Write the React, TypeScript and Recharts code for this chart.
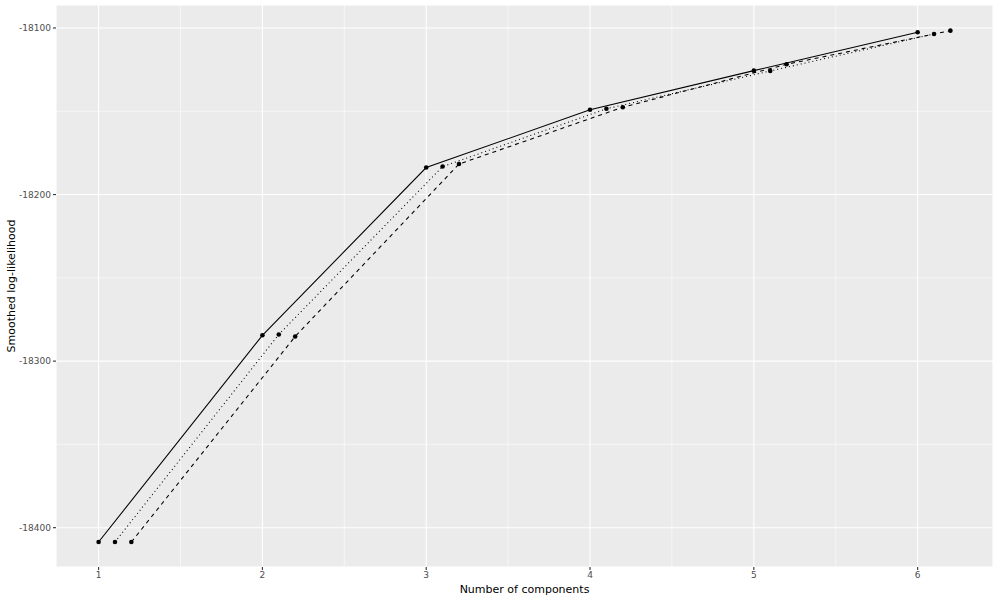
import React from 'react';
import { ComposedChart, Line, XAxis, YAxis, CartesianGrid, Label, ReferenceLine } from 'recharts';

const solidX = [1, 2, 3, 4, 5, 6];
const solidY = [-18408.6, -18284.5, -18183.8, -18149.1, -18125.6, -18102.6];
const dottedX = [1.1, 2.1, 3.1, 4.1, 5.1, 6.1];
const dottedY = [-18408.6, -18284.0, -18183.2, -18148.5, -18125.8, -18103.6];
const dashedX = [1.2, 2.2, 3.2, 4.2, 5.2, 6.2];
const dashedY = [-18408.6, -18285.2, -18181.7, -18147.6, -18121.8, -18101.6];

const xTicks = [1, 2, 3, 4, 5, 6];
const xMinor = [1.5, 2.5, 3.5, 4.5, 5.5];
const yTicks = [-18400, -18300, -18200, -18100];
const yMinor = [-18350, -18250, -18150];
const xDomain = [0.74, 6.46];
const yDomain = [-18423.6, -18086.2];

const toPts = (xs: number[], ys: number[]) => xs.map((x, i) => ({ x, y: ys[i] }));
const solid = toPts(solidX, solidY);
const dotted = toPts(dottedX, dottedY);
const dashed = toPts(dashedX, dashedY);

const FONT = '"DejaVu Sans", sans-serif';
const dot = { r: 2.3, fill: '#000', stroke: '#000', strokeWidth: 0 };

export default function App() {
  return (
    <div style={{ position: 'absolute', left: 0, top: 0, width: 1000, height: 600, background: '#fff' }}>
      <ComposedChart width={1000} height={600} margin={{ top: 5, right: 7, bottom: 0, left: 0 }}>
        <CartesianGrid fill="#EBEBEB" stroke="#FFFFFF" strokeWidth={1.1} />
        {yMinor.map((v) => (
          <ReferenceLine key={'ym' + v} y={v} stroke="#FFFFFF" strokeWidth={0.55} />
        ))}
        {xMinor.map((v) => (
          <ReferenceLine key={'xm' + v} x={v} stroke="#FFFFFF" strokeWidth={0.55} />
        ))}
        <XAxis
          dataKey="x"
          type="number"
          domain={xDomain}
          ticks={xTicks}
          allowDataOverflow
          axisLine={false}
          tickSize={3}
          tickMargin={2}
          tickLine={{ stroke: '#333333', strokeWidth: 1.1 }}
          tick={{ fill: '#4D4D4D', fontSize: 9, fontFamily: FONT }}
          height={33}
        >
          <Label
            content={({ viewBox }: any) => (
              <text
                x={viewBox.x + viewBox.width / 2}
                y={viewBox.y + 22}
                textAnchor="middle"
                dominantBaseline="central"
                fontSize={11}
                fontFamily={FONT}
                fill="#000"
              >
                Number of components
              </text>
            )}
          />
        </XAxis>
        <YAxis
          type="number"
          domain={yDomain}
          ticks={yTicks}
          allowDataOverflow
          axisLine={false}
          tickSize={3}
          tickMargin={2}
          tickLine={{ stroke: '#333333', strokeWidth: 1.1 }}
          tick={{ fill: '#4D4D4D', fontSize: 9, fontFamily: FONT }}
          width={56}
        >
          <Label
            content={({ viewBox }: any) => {
              const cx = 11;
              const cy = viewBox.y + viewBox.height / 2;
              return (
                <text
                  x={cx}
                  y={cy}
                  transform={`rotate(-90 ${cx} ${cy})`}
                  textAnchor="middle"
                  dominantBaseline="central"
                  fontSize={11}
                  fontFamily={FONT}
                  fill="#000"
                >
                  Smoothed log-likelihood
                </text>
              );
            }}
          />
        </YAxis>
        <Line data={solid} dataKey="y" type="linear" stroke="#000" strokeWidth={1.07} dot={dot} activeDot={false} isAnimationActive={false} />
        <Line data={dotted} dataKey="y" type="linear" stroke="#000" strokeWidth={1.07} strokeDasharray="1 3" dot={dot} activeDot={false} isAnimationActive={false} />
        <Line data={dashed} dataKey="y" type="linear" stroke="#000" strokeWidth={1.07} strokeDasharray="4 4" dot={dot} activeDot={false} isAnimationActive={false} />
      </ComposedChart>
    </div>
  );
}
